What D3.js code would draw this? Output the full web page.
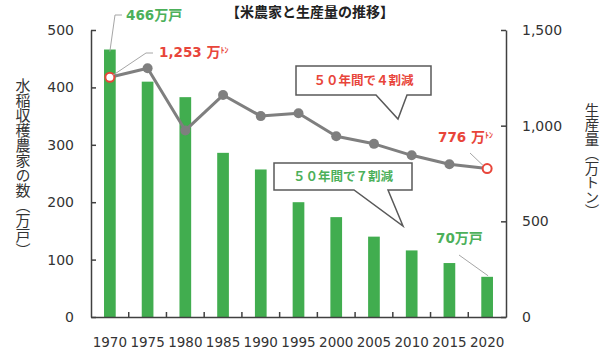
<!DOCTYPE html>
<html lang="ja">
<head>
  <meta charset="UTF-8">
  <title>米農家と生産量の推移</title>
  <style>
    * { margin: 0; padding: 0; box-sizing: border-box; }
    body { background: #fff; font-family: "DejaVu Sans", "Noto Sans CJK JP", sans-serif; }
    svg { display: block; }
    .axis path, .axis line { stroke: #404040; stroke-width: 1.5; }
    .axis text { fill: #333; font-family: "DejaVu Sans", sans-serif; }
  </style>
</head>
<body>
  <div id="chart"></div>
  <script src="https://d3js.org/d3.v7.min.js"></script>
  <script>
    // data
    const years = ["1970", "1975", "1980", "1985", "1990", "1995", "2000", "2005", "2010", "2015", "2020"];
    const farms = [466, 410, 383, 286, 257, 200, 174, 140, 116, 94, 70];          // 万戸
    const production = [1253, 1300, 975, 1160, 1050, 1065, 945, 905, 845, 798, 776]; // 万トン
    const leftTicks = [0, 100, 200, 300, 400, 500];
    const rightTicks = [0, 500, 1000, 1500];

    const width = 608, height = 351;
    const green = "#41ad4f", greenText = "#4cb05a", red = "#e8453a", gray = "#7f7f7f";
    const jp = "'Noto Sans CJK JP', sans-serif";
    const mix = "'DejaVu Sans', 'Noto Sans CJK JP', sans-serif";

    const svg = d3.select("#chart").append("svg")
      .attr("width", width)
      .attr("height", height);

    const x = d3.scaleBand().domain(years).range([91, 506]).padding(0);
    const yL = d3.scaleLinear().domain([0, 500]).range([317, 30]);
    const yR = d3.scaleLinear().domain([0, 1500]).range([317, 30]);
    const cx = d => x(d) + x.bandwidth() / 2;
    const barW = x.bandwidth() * 0.31;

    // title
    svg.append("text")
      .attr("x", 310).attr("y", 17)
      .attr("text-anchor", "middle")
      .attr("font-family", jp).attr("font-weight", "bold").attr("font-size", 14)
      .attr("fill", "#222")
      .text("【米農家と生産量の推移】");

    // bars
    svg.append("g").selectAll("rect")
      .data(years)
      .join("rect")
      .attr("x", d => cx(d) - barW / 2)
      .attr("width", barW)
      .attr("y", (d, i) => yL(farms[i]))
      .attr("height", (d, i) => yL(0) - yL(farms[i]))
      .attr("fill", green);

    // axes
    svg.append("g").attr("class", "axis")
      .attr("transform", "translate(91,0)")
      .call(d3.axisLeft(yL).tickValues(leftTicks).tickSize(-5).tickPadding(17).tickSizeOuter(0))
      .selectAll("text").attr("font-size", 14);

    svg.append("g").attr("class", "axis")
      .attr("transform", "translate(506,0)")
      .call(d3.axisRight(yR).tickValues(rightTicks).tickSize(-5).tickPadding(16)
        .tickSizeOuter(0).tickFormat(d3.format(",")))
      .selectAll("text").attr("font-size", 14);

    const xAxis = svg.append("g").attr("class", "axis")
      .attr("transform", "translate(0,317)")
      .call(d3.axisBottom(x).tickSize(0).tickPadding(20));
    xAxis.selectAll("text").attr("font-size", 13.5);
    xAxis.selectAll(".boundary")
      .data(years.slice(1))
      .join("line")
      .attr("class", "boundary")
      .attr("x1", d => x(d)).attr("x2", d => x(d))
      .attr("y1", 0).attr("y2", -5);

    // axis titles
    svg.append("text")
      .attr("x", 23).attr("y", 78)
      .attr("font-family", jp).attr("font-size", 15).attr("fill", "#333")
      .style("writing-mode", "vertical-rl")
      .text("水稲収穫農家の数（万戸）");
    svg.append("text")
      .attr("x", 592).attr("y", 103)
      .attr("font-family", jp).attr("font-size", 14.5).attr("fill", "#333")
      .style("writing-mode", "vertical-rl")
      .text("生産量（万トン）");

    // production line
    const line = d3.line()
      .x((d, i) => cx(years[i]))
      .y(d => yR(d));
    svg.append("path")
      .datum(production)
      .attr("d", line)
      .attr("fill", "none")
      .attr("stroke", gray)
      .attr("stroke-width", 3)
      .attr("stroke-linejoin", "round");

    svg.append("g").selectAll("circle")
      .data(production)
      .join("circle")
      .attr("cx", (d, i) => cx(years[i]))
      .attr("cy", d => yR(d))
      .attr("r", (d, i) => (i === 0 || i === years.length - 1) ? 4.5 : 5)
      .attr("fill", (d, i) => (i === 0 || i === years.length - 1) ? "#fff" : gray)
      .attr("stroke", (d, i) => (i === 0 || i === years.length - 1) ? red : "none")
      .attr("stroke-width", 2);

    // leader lines and value labels
    const last = years.length - 1;
    const leaders = [
      [[cx(years[0]), yL(farms[0]) + 2], [115, 15], [122, 15]],
      [[cx(years[0]) + 3, yR(production[0]) - 2], [146, 53], [153, 53]],
      [[470, 153], [cx(years[last]) - 4, yR(production[last]) - 3]],
      [[459, 255], [cx(years[last]) + 1, yL(farms[last]) - 1]]
    ];
    svg.append("g").selectAll("path")
      .data(leaders)
      .join("path")
      .attr("d", d3.line())
      .attr("fill", "none")
      .attr("stroke", "#a6a6a6")
      .attr("stroke-width", 1);

    function valueLabel(px, py, num, unit, small, color) {
      const t = svg.append("text")
        .attr("x", px).attr("y", py)
        .attr("font-family", mix).attr("font-weight", "bold")
        .attr("font-size", 13.5).attr("fill", color);
      t.append("tspan").text(num);
      t.append("tspan").attr("font-family", jp).attr("font-size", 14).text(unit);
      if (small) t.append("tspan").attr("font-family", jp).attr("font-size", 8).attr("dy", -4).text(small);
    }
    valueLabel(126, 20, farms[0], "万戸", null, greenText);
    valueLabel(159, 57, d3.format(",")(production[0]) + " ", "万", "ﾄﾝ", red);
    valueLabel(438, 142, production[last] + " ", "万", "ﾄﾝ", red);
    valueLabel(436, 243, farms[last], "万戸", null, greenText);

    // callouts
    function callout(x0, y0, x1, y1, tL, tR, tip, label, color) {
      const p = d3.path();
      p.moveTo(x0, y0); p.lineTo(x1, y0); p.lineTo(x1, y1);
      p.lineTo(tR, y1); p.lineTo(tip[0], tip[1]); p.lineTo(tL, y1);
      p.lineTo(x0, y1); p.closePath();
      svg.append("path")
        .attr("d", p.toString())
        .attr("fill", "#fff")
        .attr("stroke", "#595959")
        .attr("stroke-width", 1.5)
        .attr("stroke-linejoin", "miter");
      svg.append("text")
        .attr("x", (x0 + x1) / 2).attr("y", (y0 + y1) / 2 + 4.5)
        .attr("text-anchor", "middle")
        .attr("font-family", jp).attr("font-weight", "bold")
        .attr("font-size", 12.5).attr("fill", color)
        .text(label);
    }
    callout(296, 66, 431, 95, 376, 407, [398, 119], "５０年間で４割減", red);
    callout(274, 163, 412, 190, 354, 388, [403, 226], "５０年間で７割減", greenText);
  </script>
</body>
</html>
